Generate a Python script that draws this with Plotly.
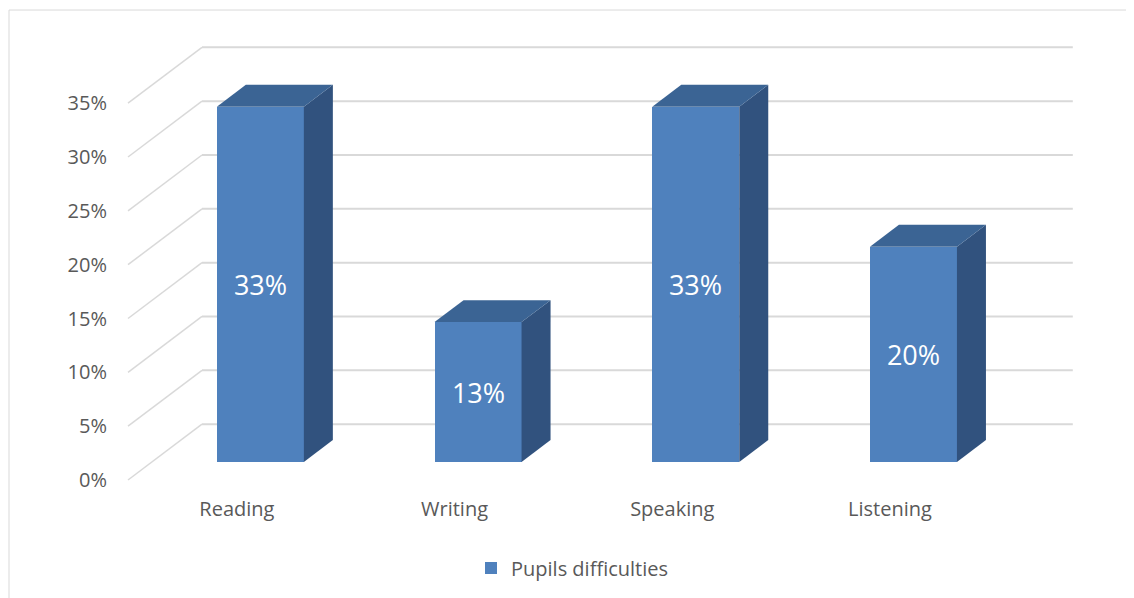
import plotly.graph_objects as go

# ---------------- data ----------------
categories = ["Reading", "Writing", "Speaking", "Listening"]
values = [33, 13, 33, 20]
series_name = "Pupils difficulties"
y_ticks = [0, 5, 10, 15, 20, 25, 30, 35]
y_tick_labels = [f"{v}%" for v in y_ticks]

# ---------------- layout geometry (pixels, page coordinates) ----------------
OFF = 8                                   # default page body margin
W, H = 1134 - OFF, 598 - OFF
L, R, T, B = 110 - OFF, 1090 - OFF, 30 - OFF, 486 - OFF   # plot area in figure px
UX = 217.7                                # px per category
UY = 10.79                                # px per percent
FRONT_LEFT_PX = 128 - OFF                 # front edge of the floor
ZERO_PX = 463 - OFF                       # bar-plane zero

x_range = [-0.5 - (FRONT_LEFT_PX - L) / UX, -0.5 + (R - FRONT_LEFT_PX) / UX]
y_range = [-(B - ZERO_PX) / UY, (ZERO_PX - T) / UY]

FRONT_DY = -18 / UY          # front (label) plane vs bar plane
BACK_DX = 74 / UX            # back wall offset from front plane
BACK_DY = 38 / UY            # back wall vs bar plane
BAR_DX = 23.5 / UX           # bar front face offset from category centre
BAR_W = 87 / UX
DEPTH_DX = 29 / UX
DEPTH_DY = 22 / UY

FRONT_C = "#4f81bd"
TOP_C = "#3b6494"
SIDE_C = "#31527e"
GRID_C = "#d9d9d9"
TEXT_C = "#595959"
FONT = "Open Sans"
FS = 20

fig = go.Figure()

# front faces (real bars)
xs = [i + BAR_DX for i in range(len(categories))]
fig.add_trace(go.Bar(
    x=xs, y=values, width=BAR_W, name=series_name,
    marker=dict(color=FRONT_C, line=dict(width=0)),
    text=[f"{v}%" for v in values], textposition="inside",
    insidetextanchor="middle",
    textfont=dict(color="white", size=27, family=FONT),
    hoverinfo="skip", showlegend=True,
))

# side and top faces
for xc, v in zip(xs, values):
    x0, x1 = xc - BAR_W / 2, xc + BAR_W / 2
    fig.add_trace(go.Scatter(
        x=[x1, x1 + DEPTH_DX, x1 + DEPTH_DX, x1, x1],
        y=[0, DEPTH_DY, v + DEPTH_DY, v, 0],
        mode="lines", fill="toself", fillcolor=SIDE_C,
        line=dict(width=0, color=SIDE_C), hoverinfo="skip", showlegend=False))
    fig.add_trace(go.Scatter(
        x=[x0, x0 + DEPTH_DX, x1 + DEPTH_DX, x1, x0],
        y=[v, v + DEPTH_DY, v + DEPTH_DY, v, v],
        mode="lines", fill="toself", fillcolor=TOP_C,
        line=dict(width=0, color=TOP_C), hoverinfo="skip", showlegend=False))

# perspective gridlines (below traces)
shapes = []
n = len(categories)
for v in y_ticks:
    shapes.append(dict(type="line", xref="x", yref="y", layer="below",
                       x0=-0.5, y0=v + FRONT_DY, x1=-0.5 + BACK_DX, y1=v + BACK_DY,
                       line=dict(color=GRID_C, width=1.5)))
    shapes.append(dict(type="line", xref="x", yref="y", layer="below",
                       x0=-0.5 + BACK_DX, y0=v + BACK_DY, x1=-0.5 + BACK_DX + n, y1=v + BACK_DY,
                       line=dict(color=GRID_C, width=2)))

# chart border
pw, ph = R - L, B - T
shapes.append(dict(type="rect", xref="paper", yref="paper", layer="below",
                   x0=(9 - OFF - L) / pw, x1=(1133 - OFF - L) / pw,
                   y0=1 - (H + 5 - T) / ph, y1=1 + (T - (10 - OFF)) / ph,
                   line=dict(color=GRID_C, width=1)))

fig.update_layout(
    width=W, height=H,
    margin=dict(l=L, r=W - R, t=T, b=H - B, pad=0),
    paper_bgcolor="white", plot_bgcolor="white",
    font=dict(family=FONT, color=TEXT_C, size=FS),
    shapes=shapes,
    showlegend=True,
    legend=dict(orientation="h", xanchor="center", yanchor="middle",
                x=(572 - OFF - L) / pw, y=1 - (568 - OFF - T) / ph,
                font=dict(size=FS, color=TEXT_C, family=FONT)),
    xaxis=dict(range=x_range, tickvals=list(range(n)), ticktext=categories,
               showgrid=False, zeroline=False, showline=False, ticks="",
               ticklabelstandoff=10,
               tickfont=dict(size=FS, color=TEXT_C), fixedrange=True),
    yaxis=dict(range=y_range, tickvals=[v + FRONT_DY for v in y_ticks],
               ticktext=y_tick_labels, showgrid=False, zeroline=False,
               showline=False, ticks="", ticklabelstandoff=2,
               tickfont=dict(size=FS, color=TEXT_C), fixedrange=True),
    bargap=0,
)

fig.write_html("out.html")
